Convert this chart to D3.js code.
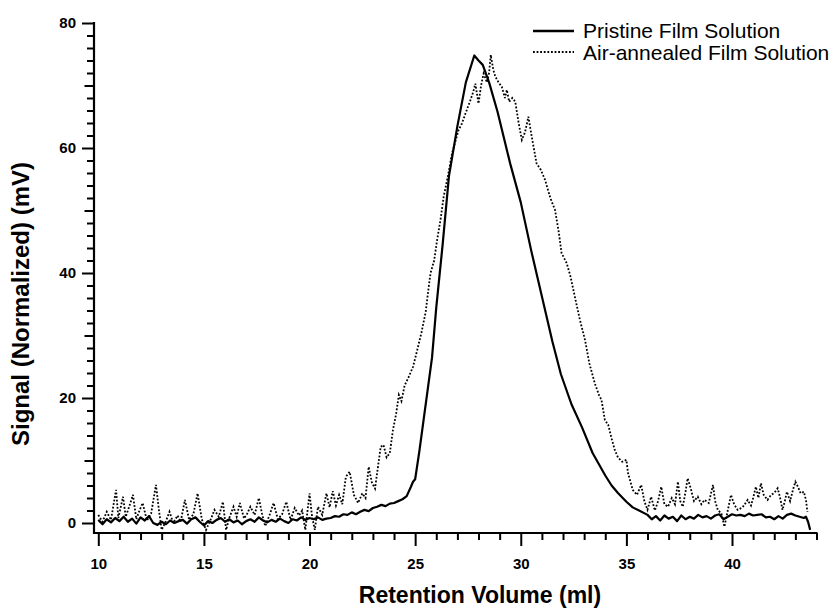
<!DOCTYPE html>
<meta charset="utf-8" />
<script src="https://d3js.org/d3.v7.min.js"></script>
<style>
  body { margin: 0; background: #fff; }
  text { font-family: "Liberation Sans", Arial, Helvetica, sans-serif; }
</style>
<body>
<div id="my_dataviz"></div>
</body>
<script>
  // retention volume (ml) and signal (mV) for the pristine film solution
  const pristineX = [10.0, 10.2, 10.4, 10.6, 10.8, 11.0, 11.2, 11.4, 11.6, 11.8, 12.0, 12.2, 12.4, 12.6, 12.8,
    13.0, 13.2, 13.4, 13.6, 13.8, 14.0, 14.2, 14.4, 14.6, 14.8, 15.0, 15.2, 15.4, 15.6, 15.8, 16.0, 16.2, 16.4,
    16.6, 16.8, 17.0, 17.2, 17.4, 17.6, 17.8, 18.0, 18.2, 18.4, 18.6, 18.8, 19.0, 19.2, 19.4, 19.6, 19.8, 20.0,
    20.2, 20.4, 20.6, 20.8, 21.0, 21.2, 21.4, 21.6, 21.8, 22.0, 22.2, 22.4, 22.6, 22.8, 23.0, 23.2, 23.4, 23.6,
    23.8, 24.0, 24.2, 24.4, 24.6, 24.8, 24.9, 25.0, 25.2, 25.4, 25.6, 25.8, 26.0, 26.3, 26.6, 27.0, 27.4, 27.8,
    28.0, 28.2, 28.5, 28.9, 29.5, 30.0, 30.5, 31.1, 31.5, 31.9, 32.4, 32.9, 33.4, 34.0, 34.3, 34.6, 35.0, 35.3,
    35.6, 36.0, 36.2, 36.4, 36.6, 36.8, 37.0, 37.2, 37.4, 37.6, 37.8, 38.0, 38.2, 38.4, 38.6, 38.8, 39.0, 39.2,
    39.4, 39.6, 39.8, 40.0, 40.2, 40.4, 40.6, 40.8, 41.0, 41.2, 41.4, 41.6, 41.8, 42.0, 42.2, 42.4, 42.6, 42.8,
    43.0, 43.2, 43.4, 43.5, 43.6, 43.7];
  const pristineY = [0.5, -0.2, 0.6, 0.1, 0.8, 0.3, 1.0, 0.2, 0.7, -0.1, 0.9, 0.4, 1.1, 0.0, -0.3,
    0.2, -0.2, 0.4, 0.0, 0.3, 0.5, -0.1, 0.6, 0.9, 0.2, -0.4, 0.3, 0.0, 0.5, 0.8, 0.2, 0.6, 0.1,
    0.4, -0.2, 0.3, 0.6, 0.2, 0.9, 0.4, 0.1, 0.5, 0.2, 0.7, 0.3, 0.0, 0.6, 0.4, 0.9, 0.5, 0.8,
    0.6, 0.9, 0.5, 0.7, 0.8, 1.1, 1.0, 1.4, 1.3, 1.7, 1.4, 1.8, 2.1, 1.9, 2.4, 2.6, 2.9, 2.7,
    3.1, 3.2, 3.5, 3.8, 4.3, 5.8, 6.6, 7.0, 11.5, 16.5, 21.5, 26.5, 34.5, 44.5, 55.5, 63.5, 70.5, 74.8,
    74.0, 73.3, 70.5, 65.8, 57.5, 51.3, 43.5, 34.8, 29.0, 23.8, 19.0, 15.3, 11.2, 7.6, 6.0, 4.8, 3.4, 2.5,
    2.0, 1.3, 0.6, 1.1, 0.4, 1.2, 0.7, 1.0, 0.3, 1.2, 0.6, 1.0, 0.7, 1.3, 0.9, 1.1, 0.7, 1.2,
    1.4, 0.6, 1.0, 1.4, 1.2, 1.3, 1.1, 1.5, 1.2, 1.3, 1.4, 0.9, 1.0, 0.6, 1.1, 0.7, 1.3, 1.5,
    1.2, 1.0, 0.8, 1.0, 0.2, -1.1];

  // retention volume (ml) and signal (mV) for the air-annealed film solution
  const annealedX = [10.0, 10.2, 10.4, 10.6, 10.84, 10.95, 11.17, 11.3, 11.45, 11.64, 11.8, 11.95, 12.1, 12.3,
    12.5, 12.73, 12.88, 13.0, 13.2, 13.37, 13.55, 13.75, 13.9, 14.1, 14.3, 14.5, 14.7, 14.9, 15.1, 15.3, 15.5,
    15.7, 15.9, 16.05, 16.2, 16.4, 16.55, 16.7, 16.9, 17.05, 17.2, 17.4, 17.6, 17.75, 17.9, 18.1, 18.3, 18.5,
    18.7, 18.9, 19.1, 19.3, 19.5, 19.65, 19.8, 20.0, 20.12, 20.25, 20.4, 20.6, 20.8, 20.95, 21.1, 21.25, 21.4,
    21.55, 21.72, 21.9, 22.1, 22.3, 22.5, 22.65, 22.8, 22.95, 23.1, 23.2, 23.37, 23.5, 23.65, 23.8, 23.95, 24.1,
    24.23, 24.35, 24.5, 24.7, 24.9, 25.1, 25.3, 25.5, 25.65, 25.73, 25.9, 26.04, 26.2, 26.35, 26.55, 26.75, 26.9,
    27.06, 27.2, 27.38, 27.6, 27.75, 27.85, 28.0, 28.12, 28.24, 28.4, 28.5, 28.58, 28.7, 28.8, 28.95, 29.1,
    29.25, 29.34, 29.45, 29.6, 29.74, 29.9, 30.05, 30.2, 30.36, 30.52, 30.75, 30.95, 31.15, 31.4, 31.62, 31.8,
    31.93, 32.17, 32.35, 32.56, 32.8, 33.04, 33.25, 33.5, 33.7, 33.82, 33.98, 34.14, 34.3, 34.45, 34.6, 34.8,
    35.0, 35.08, 35.3, 35.5, 35.7, 35.85, 36.0, 36.17, 36.35, 36.5, 36.65, 36.8, 36.97, 37.15, 37.3, 37.44,
    37.55, 37.67, 37.8, 37.9, 38.05, 38.2, 38.38, 38.55, 38.7, 38.9, 39.1, 39.2, 39.33, 39.5, 39.64, 39.8,
    39.95, 40.1, 40.27, 40.5, 40.74, 40.9, 41.0, 41.13, 41.25, 41.37, 41.5, 41.68, 41.85, 42.0, 42.16, 42.28,
    42.39, 42.5, 42.6, 42.75, 42.9, 43.0, 43.12, 43.25, 43.4, 43.5, 43.57];
  const annealedY = [1.3, 0.2, 1.8, 0.5, 5.3, 0.8, 4.2, 1.0, 2.5, 4.5, 0.6, 2.0, 3.2, 0.4,
    1.5, 6.1, 1.8, -1.1, 0.3, 1.8, 0.0, 1.2, 0.2, 3.7, 0.5, 1.4, 4.75, 0.6, -1.1, 0.4, 2.1,
    1.0, 3.4, -1.1, 0.8, 2.6, 1.0, 3.2, 0.7, 1.5, 2.6, 1.3, 4.0, 1.5, -0.5, 1.2, 3.2, 0.6,
    1.4, 3.4, 0.5, 2.4, 1.2, 2.0, -1.1, 4.75, 1.0, -1.1, 2.6, 1.3, 4.75, 2.5, 5.1, 2.8, 4.5,
    3.0, 7.4, 8.2, 4.5, 3.2, 4.75, 4.0, 9.0, 6.5, 5.5, 8.0, 12.2, 12.5, 10.5, 11.2, 14.9, 17.5,
    20.5, 19.5, 22.0, 23.4, 25.0, 27.7, 30.5, 33.8, 38.0, 40.0, 42.0, 45.3, 48.5, 52.2, 55.5, 59.2, 61.0,
    62.9, 63.8, 65.5, 67.5, 69.0, 70.3, 67.1, 70.0, 71.9, 70.5, 72.0, 74.9, 72.5, 71.4, 70.5, 69.8,
    68.0, 69.3, 67.4, 68.0, 67.4, 64.0, 61.3, 62.5, 65.0, 61.8, 57.5, 56.5, 54.9, 52.0, 50.1, 46.5,
    43.2, 41.6, 39.5, 36.2, 32.5, 29.3, 25.5, 22.4, 20.5, 19.7, 16.5, 15.7, 13.5, 11.7, 10.5, 9.8,
    10.1, 7.95, 5.3, 4.5, 6.1, 3.5, 2.1, 4.2, 2.0, 3.5, 5.8, 3.0, 2.6, 4.0, 3.0, 6.6,
    3.5, 2.6, 5.0, 7.15, 5.5, 3.5, 4.2, 3.0, 3.7, 3.2, 6.1, 3.5, 2.1, 1.5, -0.6, 2.0,
    4.5, 3.0, 2.1, 2.5, 3.7, 2.8, 4.0, 5.8, 4.0, 6.35, 4.5, 3.7, 4.5, 4.8, 5.55, 4.0,
    2.1, 3.5, 5.0, 3.5, 5.5, 6.6, 5.8, 4.75, 5.0, 3.7, 1.8];

  const seriesNames = ["Pristine Film Solution", "Air-annealed Film Solution"];
  const xTicks = d3.range(10, 45, 1);
  const yTicks = d3.range(0, 81, 2);

  const width = 839, height = 610;
  const axisLeftX = 94, axisBottomY = 533;
  const dots = "1.8,1.8";

  const svg = d3.select("#my_dataviz")
    .append("svg")
      .attr("width", width)
      .attr("height", height);

  const x = d3.scaleLinear().domain([10, 44]).range([98.3, 816.5]);
  const y = d3.scaleLinear().domain([-1.6, 80]).range([axisBottomY, 23]);

  // y axis: ticks every 2, longer at 10, longest (labelled) at 20
  const yAxis = svg.append("g")
    .attr("transform", "translate(" + axisLeftX + ",0)")
    .call(d3.axisLeft(y).tickValues(yTicks).tickSize(7).tickSizeOuter(0)
      .tickFormat(d => d % 20 === 0 ? d : ""));
  yAxis.select(".domain").remove();
  yAxis.selectAll(".tick line")
    .attr("stroke-width", 2)
    .attr("x2", d => d % 20 === 0 ? -12 : (d % 10 === 0 ? -9.5 : -7));
  yAxis.selectAll(".tick text")
    .attr("x", -18)
    .style("font-size", "15px")
    .style("font-weight", "bold")
    .attr("fill", "#000");

  // x axis: ticks every 1, longer at 5
  const xAxis = svg.append("g")
    .attr("transform", "translate(0," + axisBottomY + ")")
    .call(d3.axisBottom(x).tickValues(xTicks).tickSize(7).tickSizeOuter(0)
      .tickFormat(d => d % 5 === 0 ? d : ""));
  xAxis.select(".domain").remove();
  xAxis.selectAll(".tick line")
    .attr("stroke-width", 2)
    .attr("y2", d => d % 5 === 0 ? 13 : 7);
  xAxis.selectAll(".tick text")
    .attr("y", 25)
    .style("font-size", "15px")
    .style("font-weight", "bold")
    .attr("fill", "#000");

  // axis lines
  svg.append("line")
    .attr("x1", axisLeftX).attr("x2", axisLeftX)
    .attr("y1", y(80) - 1).attr("y2", axisBottomY + 1)
    .attr("stroke", "#000").attr("stroke-width", 2.2);
  svg.append("line")
    .attr("x1", axisLeftX - 1).attr("x2", x(44) + 1)
    .attr("y1", axisBottomY).attr("y2", axisBottomY)
    .attr("stroke", "#000").attr("stroke-width", 2.2);

  // axis titles
  svg.append("text")
    .attr("x", 480).attr("y", 603)
    .attr("text-anchor", "middle")
    .style("font-size", "23px").style("font-weight", "bold")
    .text("Retention Volume (ml)");
  svg.append("text")
    .attr("transform", "translate(29,304) rotate(-90)")
    .attr("text-anchor", "middle")
    .style("font-size", "24px").style("font-weight", "bold")
    .text("Signal (Normalized) (mV)");

  // the two curves
  const line = d3.line().x(d => x(d[0])).y(d => y(d[1]));
  const annealed = annealedX.map((v, i) => [v, annealedY[i]]);
  const pristine = pristineX.map((v, i) => [v, pristineY[i]]);

  svg.append("path")
    .datum(annealed)
    .attr("d", line)
    .attr("fill", "none")
    .attr("stroke", "#000")
    .attr("stroke-width", 1.8)
    .attr("stroke-dasharray", dots);

  svg.append("path")
    .datum(pristine)
    .attr("d", line)
    .attr("fill", "none")
    .attr("stroke", "#000")
    .attr("stroke-width", 2.2)
    .attr("stroke-linejoin", "round");

  // legend
  const legend = svg.append("g");
  const legendRows = [{name: seriesNames[0], dash: null, w: 2.4}, {name: seriesNames[1], dash: dots, w: 1.8}];
  legendRows.forEach(function(r, i) {
    legend.append("line")
      .attr("x1", 533).attr("x2", 574)
      .attr("y1", 31 + i * 21).attr("y2", 31 + i * 21)
      .attr("stroke", "#000")
      .attr("stroke-width", r.w)
      .attr("stroke-dasharray", r.dash);
    legend.append("text")
      .attr("x", 583).attr("y", 38 + i * 21.5)
      .style("font-size", "21px")
      .text(r.name);
  });
</script>
